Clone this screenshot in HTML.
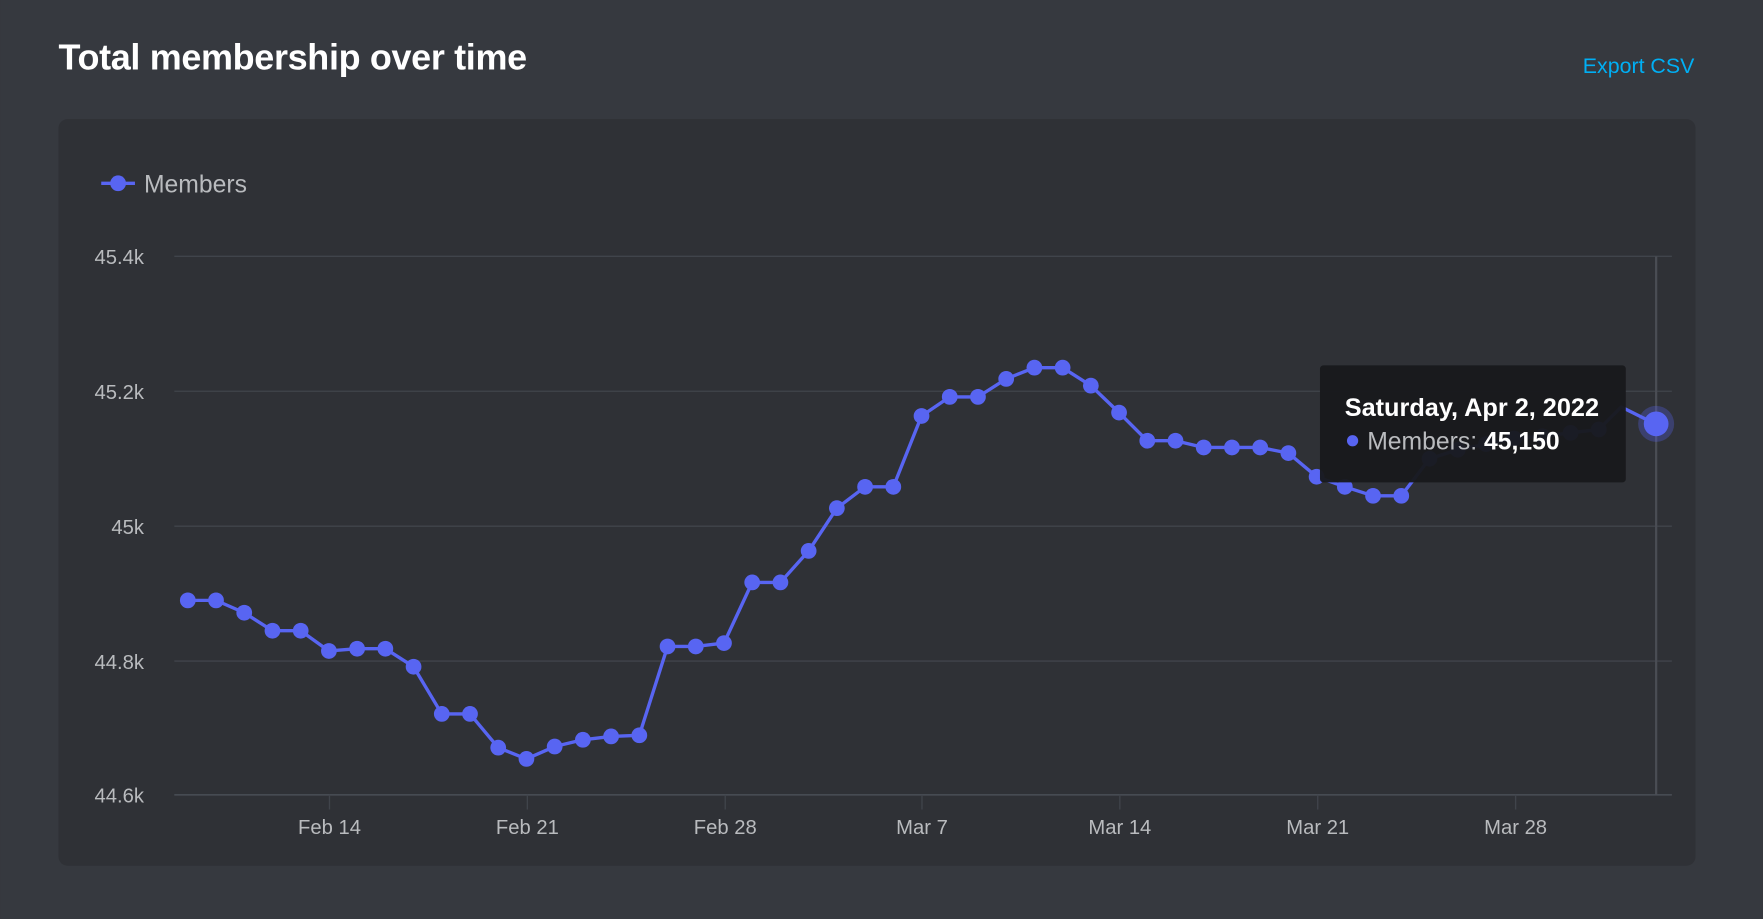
<!DOCTYPE html>
<html><head><meta charset="utf-8"><style>
html,body{margin:0;padding:0;background:#36393f;width:1763px;height:919px;overflow:hidden;font-family:"Liberation Sans",sans-serif;}
</style></head><body>
<svg width="1763" height="919" viewBox="0 0 1568 817.4" xmlns="http://www.w3.org/2000/svg" style="display:block">
<rect x="0" y="0" width="1568" height="818" fill="#36393f"/>
<text x="52" y="62" fill="#ffffff" font-size="32" font-weight="bold" font-family="Liberation Sans, sans-serif" letter-spacing="-0.3">Total membership over time</text>
<text x="1507" y="65" fill="#00aff4" font-size="19" text-anchor="end" font-family="Liberation Sans, sans-serif">Export CSV</text>
<rect x="52" y="106" width="1456" height="664" rx="8" fill="#2f3136"/>
<line x1="90" y1="163" x2="120" y2="163" stroke="#5865f2" stroke-width="3"/>
<circle cx="105" cy="163" r="7" fill="#5865f2"/>
<text x="128" y="171" fill="#b9bbbe" font-size="22" font-family="Liberation Sans, sans-serif">Members</text>
<g stroke="#40444b" stroke-width="1.2">
<line x1="155" y1="228" x2="1487" y2="228"/>
<line x1="155" y1="348" x2="1487" y2="348"/>
<line x1="155" y1="468" x2="1487" y2="468"/>
<line x1="155" y1="588" x2="1487" y2="588"/>
<line x1="155" y1="707" x2="1487" y2="707" stroke="#4f545c"/>
<line x1="293" y1="707" x2="293" y2="720"/><line x1="469" y1="707" x2="469" y2="720"/><line x1="645" y1="707" x2="645" y2="720"/><line x1="820" y1="707" x2="820" y2="720"/><line x1="996" y1="707" x2="996" y2="720"/><line x1="1172" y1="707" x2="1172" y2="720"/><line x1="1348" y1="707" x2="1348" y2="720"/>
</g>
<g fill="#b9bbbe" font-size="18" text-anchor="end" font-family="Liberation Sans, sans-serif">
<text x="128" y="235">45.4k</text><text x="128" y="355">45.2k</text><text x="128" y="475">45k</text><text x="128" y="595">44.8k</text><text x="128" y="714">44.6k</text>
</g>
<g fill="#b9bbbe" font-size="18" text-anchor="middle" font-family="Liberation Sans, sans-serif">
<text x="293" y="742">Feb 14</text><text x="469" y="742">Feb 21</text><text x="645" y="742">Feb 28</text><text x="820" y="742">Mar 7</text><text x="996" y="742">Mar 14</text><text x="1172" y="742">Mar 21</text><text x="1348" y="742">Mar 28</text>
</g>
<line x1="1473" y1="228" x2="1473" y2="707" stroke="#4a4d54" stroke-width="2"/>
<polyline fill="none" stroke="#5865f2" stroke-width="3" stroke-linejoin="round" points="167,534 192.1,534 217.2,545 242.3,561 267.4,561 292.5,579 317.6,577 342.7,577 367.8,593 392.9,635 418,635 443.1,665 468.2,675 493.3,664 518.4,658 543.5,655 568.6,654 593.7,575 618.8,575 643.9,572 669,518 694.1,518 719.2,490 744.3,452 769.4,433 794.5,433 819.6,370 844.7,353 869.8,353 894.9,337 920,327 945.1,327 970.2,343 995.3,367 1020.4,392 1045.5,392 1070.6,398 1095.7,398 1120.8,398 1145.9,403 1171,424 1196.1,433 1221.2,441 1246.3,441 1271.4,408 1296.5,400 1321.6,395 1346.7,390 1371.8,388 1396.9,385 1422,382 1442,362 1472.2,377"/>
<g fill="#5865f2">
<circle cx="167" cy="534" r="7"/><circle cx="192.1" cy="534" r="7"/><circle cx="217.2" cy="545" r="7"/><circle cx="242.3" cy="561" r="7"/><circle cx="267.4" cy="561" r="7"/><circle cx="292.5" cy="579" r="7"/><circle cx="317.6" cy="577" r="7"/><circle cx="342.7" cy="577" r="7"/><circle cx="367.8" cy="593" r="7"/><circle cx="392.9" cy="635" r="7"/><circle cx="418" cy="635" r="7"/><circle cx="443.1" cy="665" r="7"/><circle cx="468.2" cy="675" r="7"/><circle cx="493.3" cy="664" r="7"/><circle cx="518.4" cy="658" r="7"/><circle cx="543.5" cy="655" r="7"/><circle cx="568.6" cy="654" r="7"/><circle cx="593.7" cy="575" r="7"/><circle cx="618.8" cy="575" r="7"/><circle cx="643.9" cy="572" r="7"/><circle cx="669" cy="518" r="7"/><circle cx="694.1" cy="518" r="7"/><circle cx="719.2" cy="490" r="7"/><circle cx="744.3" cy="452" r="7"/><circle cx="769.4" cy="433" r="7"/><circle cx="794.5" cy="433" r="7"/><circle cx="819.6" cy="370" r="7"/><circle cx="844.7" cy="353" r="7"/><circle cx="869.8" cy="353" r="7"/><circle cx="894.9" cy="337" r="7"/><circle cx="920" cy="327" r="7"/><circle cx="945.1" cy="327" r="7"/><circle cx="970.2" cy="343" r="7"/><circle cx="995.3" cy="367" r="7"/><circle cx="1020.4" cy="392" r="7"/><circle cx="1045.5" cy="392" r="7"/><circle cx="1070.6" cy="398" r="7"/><circle cx="1095.7" cy="398" r="7"/><circle cx="1120.8" cy="398" r="7"/><circle cx="1145.9" cy="403" r="7"/><circle cx="1171" cy="424" r="7"/><circle cx="1196.1" cy="433" r="7"/><circle cx="1221.2" cy="441" r="7"/><circle cx="1246.3" cy="441" r="7"/><circle cx="1271.4" cy="408" r="7"/><circle cx="1296.5" cy="400" r="7"/><circle cx="1321.6" cy="395" r="7"/><circle cx="1346.7" cy="390" r="7"/><circle cx="1371.8" cy="388" r="7"/><circle cx="1396.9" cy="385" r="7"/><circle cx="1422" cy="382" r="7"/>
<circle cx="1473" cy="377" r="16" fill-opacity="0.3"/>
<circle cx="1473" cy="377" r="11"/>
</g>
<rect x="1174" y="325" width="272" height="104" rx="3" fill="#18191c" fill-opacity="0.96"/>
<text x="1196" y="370" fill="#ffffff" font-size="22.5" font-weight="bold" font-family="Liberation Sans, sans-serif">Saturday, Apr 2, 2022</text>
<circle cx="1203" cy="392" r="5" fill="#5865f2"/>
<text x="1216" y="400" font-size="22" font-family="Liberation Sans, sans-serif"><tspan fill="#b9bbbe">Members: </tspan><tspan fill="#ffffff" font-weight="bold">45,150</tspan></text>
</svg>
</body></html>
